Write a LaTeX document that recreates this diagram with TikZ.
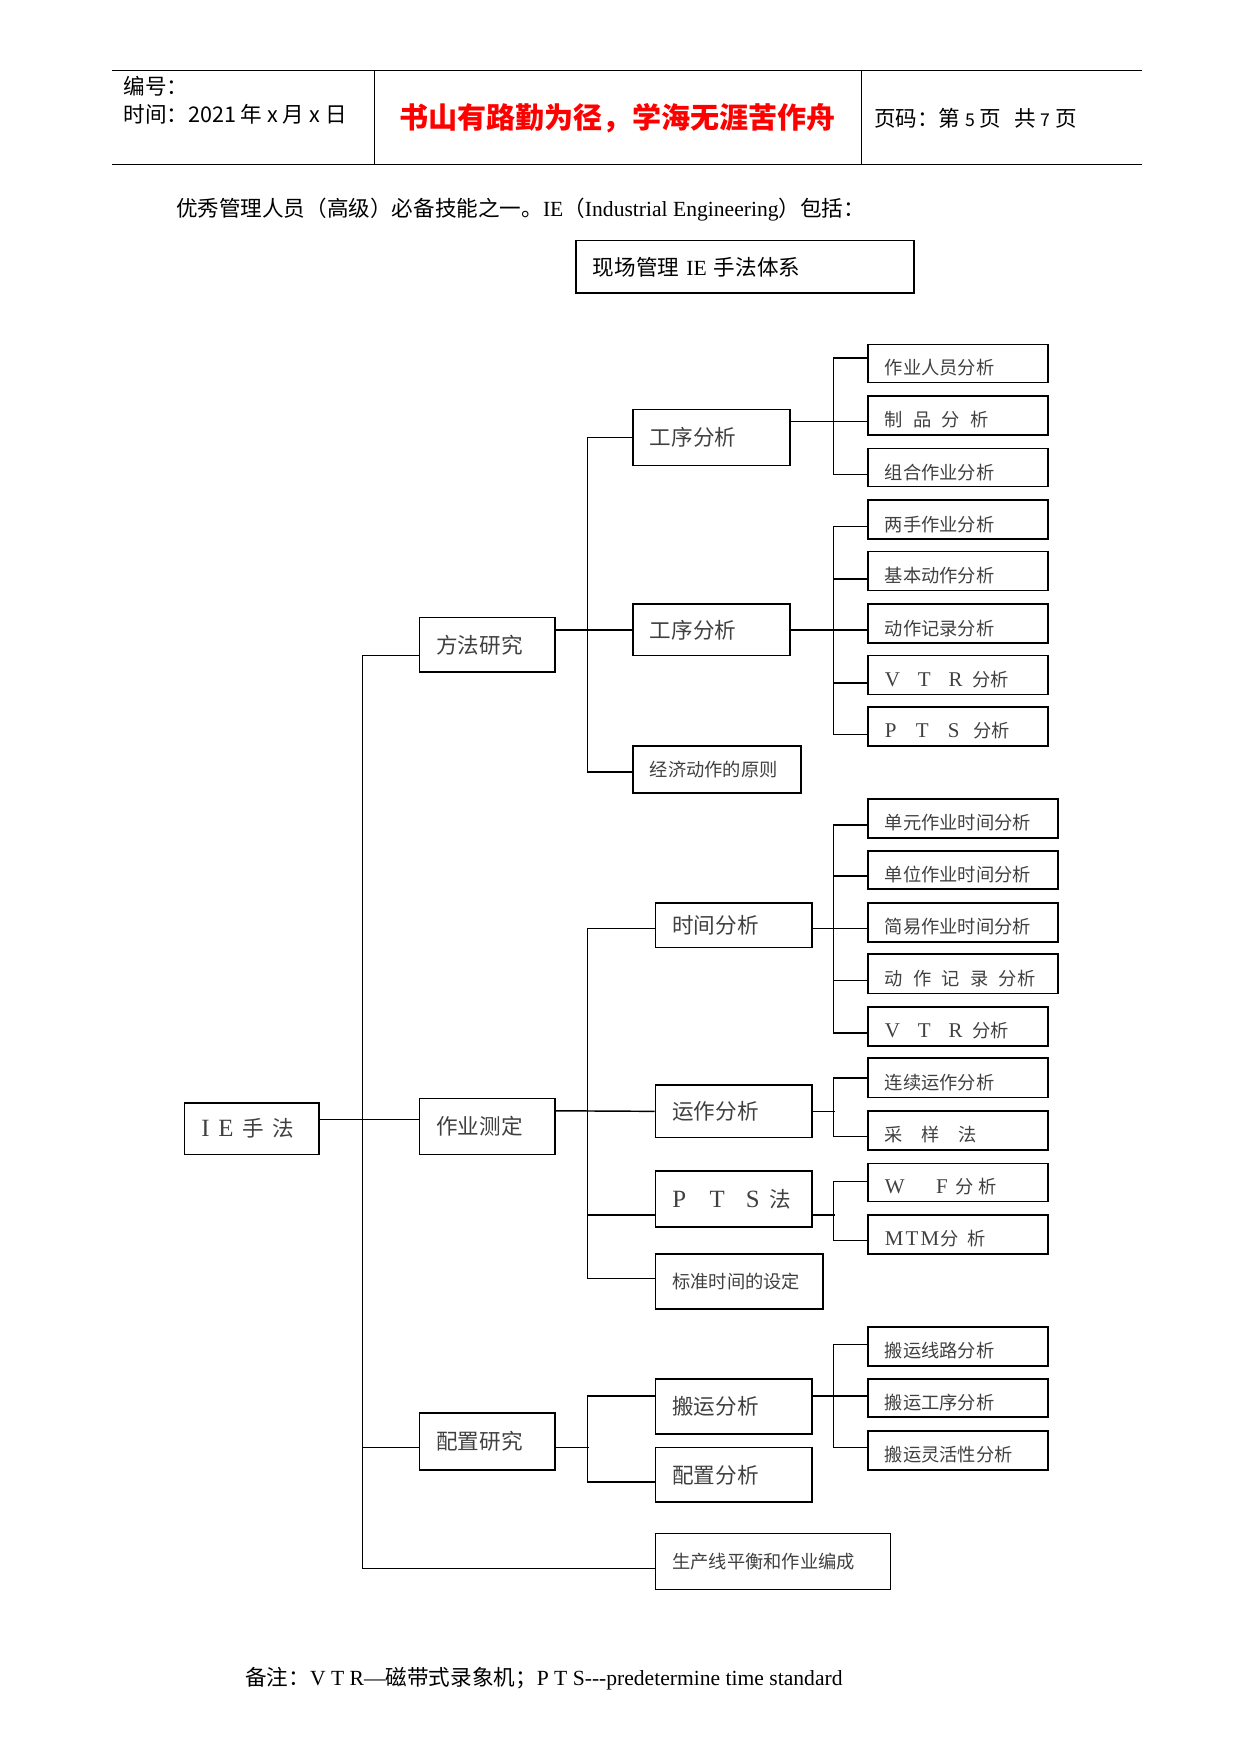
\documentclass[tikz,border=0pt]{standalone}
\usepackage{fontspec}
\setmainfont{Noto Sans CJK SC}
\newfontfamily\tmf{Liberation Serif}
\newfontfamily\tmfb[Scale=1.15]{Liberation Serif}
\newcommand\tm[1]{{\tmf #1}}
\newcommand\tb[1]{{\tmfb #1}}
\newcommand\fbig{\fontsize{10.4}{12.5}\selectfont}
\newcommand\fsml{\fontsize{8.8}{10.5}\selectfont}
\newcommand\fhdr{\fontsize{10.4}{12.5}\selectfont}
\newcommand\fred{\fontsize{14}{16}\selectfont}
\def\upx{0.1894mm}
\newcommand\bx[7]{%
 \pgfmathsetmacro\bxw{(#4-#2)*0.1894}%
 \pgfmathsetmacro\bxh{(#5-#3)*0.1894}%
 \pgfmathsetmacro\bxt{\bxw-2*2.84}%
 \node[#6,minimum width=\bxw mm,minimum height=\bxh mm,text width=\bxt mm] (#1) at ({(#2+#4)/2},{(#3+#5)/2}) {#7};}
\newcommand\W[2]{([yshift=-#2*\upx]#1.west)}
\newcommand\E[2]{([yshift=-#2*\upx]#1.east)}
\tikzset{
 box/.style={draw,line width=0.8pt,inner xsep=2.84mm,inner ysep=0pt,align=left,text=black!75},
 bbox/.style={box,font=\fbig},
 sbox/.style={box,font=\fsml,text height=11pt,text depth=0pt},
 sboxc/.style={box,font=\fsml},
 conn/.style={line width=0.7pt},
 plain/.style={inner sep=0pt,anchor=west}
}
\begin{document}
\begin{tikzpicture}[x=0.1894mm,y=-0.1894mm]
\useasboundingbox (0,0) rectangle (1109,1568);
% header
\draw[line width=0.6pt] (100,63) -- (1021,63) (100,147) -- (1021,147)
  (335,63) -- (335,147) (770,63) -- (770,147);
\node[plain,font=\fhdr] (h1) at (110,77) {编号：};
\node[plain,font=\fhdr] (h2) at (110,102) {时间：2021 年 x 月 x 日};
\node[inner sep=0pt,font=\fred\bfseries,text=red] (h3) at (552,106) {书山有路勤为径，学海无涯苦作舟};
\node[plain,font=\fhdr] (h4) at (781,106) {页码：第 {\fontsize{8.5}{10}\selectfont 5} 页\hspace{0.6em}共 {\fontsize{8.5}{10}\selectfont 7} 页};
% intro
\node[plain,font=\fbig] (intro) at (157,187) {优秀管理人员（高级）必备技能之一。\tm{IE}（\tm{Industrial Engineering}）包括：};
\bx{title}{515}{215}{817}{262}{box,font=\fbig,text=black}{现场管理 \tm{IE} 手法体系}
% level 0/1
\bx{ie}{165}{986}{285}{1032}{bbox}{\tb{I\hspace{0.35em}E}\hspace{0.42em}手\hspace{0.4em}法}
\bx{ms}{375}{552}{496}{601}{bbox}{方法研究}
\bx{zc}{375}{982}{496}{1032}{bbox}{作业测定}
\bx{pz}{375}{1263}{496}{1314}{bbox}{配置研究}
\bx{sc}{586}{1371}{796}{1421}{sboxc}{生产线平衡和作业编成}
% level 2
\bx{gx1}{566}{366}{706}{416}{bbox}{工序分析}
\bx{gx2}{566}{540}{706}{586}{bbox}{工序分析}
\bx{jj}{566}{667}{716}{709}{sboxc}{经济动作的原则}
\bx{sj}{586}{807}{726}{847}{bbox}{时间分析}
\bx{yz}{586}{970}{726}{1017}{bbox}{运作分析}
\bx{pts}{586}{1047}{726}{1097}{bbox}{\tb{P\hspace{0.95em}T\hspace{0.85em}S}\hspace{0.45em}法}
\bx{bz}{586}{1121}{736}{1170}{sboxc}{标准时间的设定}
\bx{by}{586}{1233}{726}{1282}{bbox}{搬运分析}
\bx{pf}{586}{1294}{726}{1343}{bbox}{配置分析}
% level 3
\bx{a1}{776}{308}{937}{342}{sbox}{作业人员分析}
\bx{a2}{776}{354}{937}{389}{sbox}{制\hspace{0.56em}品\hspace{0.56em}分\hspace{0.56em}析}
\bx{a3}{776}{401}{937}{435}{sbox}{组合作业分析}
\bx{b1}{776}{447}{937}{482}{sbox}{两手作业分析}
\bx{b2}{776}{493}{937}{528}{sbox}{基本动作分析}
\bx{b3}{776}{540}{937}{575}{sbox}{动作记录分析}
\bx{b4}{776}{586}{937}{621}{sbox}{\tb{V\hspace{0.85em}T\hspace{0.85em}R}\hspace{0.55em}分析}
\bx{b5}{776}{632}{937}{667}{sbox}{\tb{P\hspace{0.92em}T\hspace{0.92em}S}\hspace{0.75em}分析}
\bx{c1}{776}{714}{946}{749}{sbox}{单元作业时间分析}
\bx{c2}{776}{761}{946}{795}{sbox}{单位作业时间分析}
\bx{c3}{776}{807}{946}{842}{sbox}{简易作业时间分析}
\bx{c4}{776}{853}{946}{888}{sbox}{动\hspace{0.56em}作\hspace{0.56em}记\hspace{0.56em}录\hspace{0.56em}分析}
\bx{c5}{776}{900}{937}{935}{sbox}{\tb{V\hspace{0.85em}T\hspace{0.85em}R}\hspace{0.55em}分析}
\bx{d1}{776}{946}{937}{981}{sbox}{连续运作分析}
\bx{d2}{776}{993}{937}{1028}{sbox}{采\hspace{1.02em}样\hspace{1.02em}法}
\bx{e1}{776}{1040}{937}{1074}{sbox}{\tb{W\hspace{1.5em}F}\hspace{0.4em}分\hspace{0.3em}析}
\bx{e2}{776}{1086}{937}{1121}{sbox}{\tb{M\hspace{0.1em}T\hspace{0.1em}M}\hspace{0.05em}分\hspace{0.5em}析}
\bx{f1}{776}{1186}{937}{1221}{sbox}{搬运线路分析}
\bx{f2}{776}{1233}{937}{1267}{sbox}{搬运工序分析}
\bx{f3}{776}{1279}{937}{1314}{sbox}{搬运灵活性分析}
% connectors level 1
\draw[conn] \E{ie}{-8} -- \W{zc}{-6};
\draw[conn] \W{ms}{9.5} -- ++(-50,0) |- \W{sc}{6};
\draw[conn] \W{pz}{5.5} -- ++(-50,0);
% method study
\draw[conn] \E{ms}{-13.5} -- (gx2.west);
\draw[conn] (gx1.west) -- ++(-40,0) |- \W{jj}{2};
% process analysis 1
\draw[conn] \E{gx1}{-14} -- \W{a2}{5.5};
\draw[conn] \W{a1}{-5} -- ++(-30,0) |- \W{a3}{6};
% process analysis 2
\draw[conn] (gx2.east) -- \W{b3}{5.5};
\draw[conn] \W{b1}{6} -- ++(-30,0) |- \W{b5}{7};
\draw[conn] \W{b2}{7} -- ++(-30,0);
\draw[conn] \W{b4}{7} -- ++(-30,0);
% work measurement
\draw[conn] \E{zc}{-14} -- (yz.west);
\draw[conn] \W{sj}{3} -- ++(-60,0) |- \W{bz}{-2.5};
\draw[conn] \W{pts}{14} -- ++(-60,0);
% time analysis
\draw[conn] \E{sj}{3} -- \W{c3}{5.5};
\draw[conn] \W{c1}{6} -- ++(-30,0) |- \W{c5}{6};
\draw[conn] \W{c2}{5} -- ++(-30,0);
\draw[conn] \W{c4}{6} -- ++(-30,0);
% operation analysis
\draw[conn] (yz.east) -- ++(20,0);
\draw[conn] (d1.west) -- ++(-30,0) |- \W{d2}{5.5};
% PTS
\draw[conn] \E{pts}{14} -- ++(20,0);
\draw[conn] \W{e1}{-1} -- ++(-30,0) |- \W{e2}{5.5};
% layout study
\draw[conn] \E{pz}{5.5} -- ++(30,0);
\draw[conn] \W{by}{-9.5} -- ++(-60,0) |- \W{pf}{6.5};
\draw[conn] \E{by}{-9.5} -- \W{f2}{-2};
\draw[conn] \W{f1}{-1.5} -- ++(-30,0) |- \W{f3}{-2.5};
% footer
\node[plain,font=\fbig] (note) at (219,1501) {备注：\tm{V T R—}磁带式录象机；\tm{P T S---predetermine time standard}};
\end{tikzpicture}
\end{document}
